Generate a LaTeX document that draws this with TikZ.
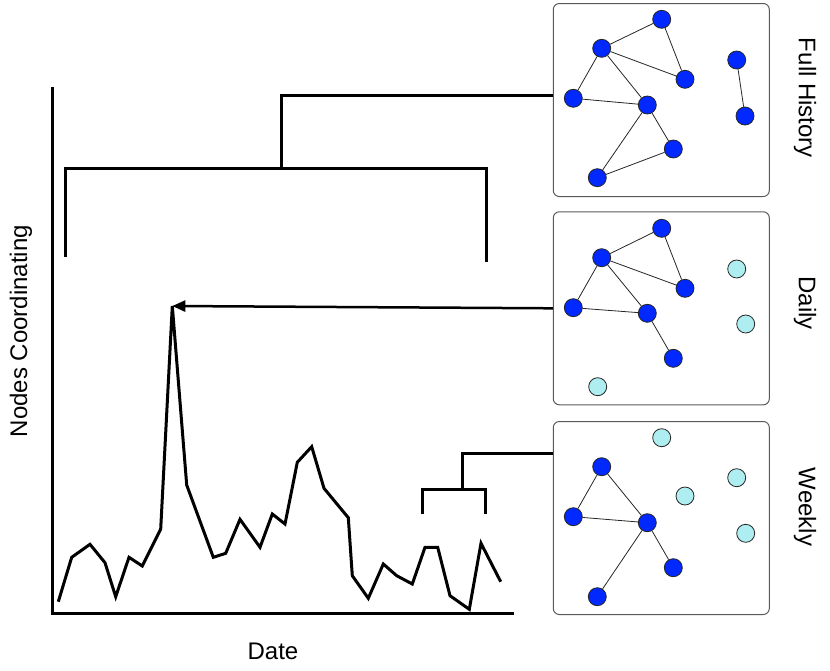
\documentclass[tikz,border=0pt]{standalone}
\usepackage{fontspec}
\setmainfont{Liberation Sans}
\usetikzlibrary{arrows.meta}
\definecolor{nodeblue}{RGB}{0,40,255}
\definecolor{nodelight}{RGB}{175,238,240}
\begin{document}
\begin{tikzpicture}[x=1pt,y=-1pt,
  gbox/.style={draw=black!65, line width=1pt, rounded corners=6pt, minimum width=216pt, minimum height=193pt, inner sep=0pt},
  on/.style={circle, draw=black!85, line width=0.8pt, fill=nodeblue, minimum size=18pt, inner sep=0pt},
  off/.style={circle, draw=black!85, line width=0.8pt, fill=nodelight, minimum size=18pt, inner sep=0pt},
  gedge/.style={line width=0.8pt, black!85},
  thickline/.style={line width=3pt, black, line join=miter},
  lbl/.style={font=\fontsize{24}{28}\selectfont, inner sep=0pt}]
\useasboundingbox (0,0) rectangle (830,670);

% boxes
\node[gbox] (box1) at (661.3,100) {};
\node[gbox] (box2) at (661.3,308.3) {};
\node[gbox] (box3) at (661.3,518) {};

% graph 1
\begin{scope}
\node[on] (a1) at (661.7,19.3) {};
\node[on] (b1) at (601.7,48.3) {};
\node[on] (c1) at (685,79.3) {};
\node[on] (d1) at (573.3,98.3) {};
\node[on] (e1) at (647.3,105) {};
\node[on] (f1) at (673.3,149) {};
\node[on] (g1) at (597.3,177.7) {};
\node[on] (h1) at (736.7,60) {};
\node[on] (i1) at (745,116) {};
\draw[gedge] (b1)--(a1) (a1)--(c1) (b1)--(c1) (b1)--(d1) (b1)--(e1) (d1)--(e1) (e1)--(f1) (e1)--(g1) (f1)--(g1) (h1)--(i1);
\end{scope}

% graph 2
\node[on] (a2) at (661.7,228.3) {};
\node[on] (b2) at (601.7,257.7) {};
\node[on] (c2) at (685,288.3) {};
\node[on] (d2) at (573.3,307.7) {};
\node[on] (e2) at (647.3,313.3) {};
\node[on] (f2) at (673.3,358.3) {};
\node[off] (h2) at (736.7,269) {};
\node[off] (i2) at (745.7,324) {};
\node[off] (g2) at (597.7,386.7) {};
\draw[gedge] (b2)--(a2) (a2)--(c2) (b2)--(c2) (b2)--(d2) (b2)--(e2) (d2)--(e2) (e2)--(f2);

% graph 3
\node[off] (a3) at (661.7,437.7) {};
\node[on] (b3) at (601.7,466.7) {};
\node[off] (h3) at (736.7,477.7) {};
\node[off] (c3) at (685,496) {};
\node[on] (d3) at (573.3,516.7) {};
\node[on] (e3) at (647.3,522.7) {};
\node[off] (i3) at (745.7,533.3) {};
\node[on] (f3) at (673.3,567.7) {};
\node[on] (g3) at (597.3,596.7) {};
\draw[gedge] (b3)--(d3) (b3)--(e3) (d3)--(e3) (e3)--(f3) (e3)--(g3);

% labels
\node[lbl, rotate=-90] (lfull) at (805,98) {Full History};
\node[lbl, rotate=-90] (ldaily) at (805,303) {Daily};
\node[lbl, rotate=-90] (lweekly) at (805,507) {Weekly};
\node[lbl, rotate=90] (ly) at (21,331) {Nodes Coordinating};
\node[lbl] (lx) at (273,651) {Date};

% axes
\draw[thickline] (52.7,87) -- (52.7,613.3) -- (514,613.3);

% chart
\coordinate (peak) at (172.3,306);
\draw[thickline] plot coordinates {
 (58.3,601.7) (71.7,557.3) (90,544.3) (105,562.7) (115.7,596.7) (129,557.3)
 (142.3,566) (160.7,529) (172.3,306) (186.7,485) (213.3,557.3) (225.7,553.3)
 (240,519.3) (260,547.3) (272.3,514) (285,524) (297.3,462.3) (311.7,446.7)
 (324,488.3) (348.3,517.7) (352.3,575.7) (368.3,598.3) (383.3,564)
 (396.7,575.7) (412.3,584) (425,547.3) (437.7,547.3) (450,595.7)
 (469.3,609.3) (481,543.3) (500.7,581.7)};

% arrow from daily box to peak
\draw[line width=2.5pt, -{Triangle[length=13pt,width=11pt]}] (box2.west) -- (peak);

% bracket for full history
\coordinate (b1l) at (65,257);
\coordinate (b1r) at (486,262);
\coordinate (b1m) at (281.7,168.3);
\draw[thickline] (b1l) |- (b1m) -| (b1r);
\draw[thickline] (b1m) |- ([yshift=5pt]box1.west);

% bracket for weekly
\coordinate (b3l) at (422.7,514);
\coordinate (b3r) at (485.7,514);
\coordinate (b3m) at (462.7,489);
\draw[thickline] (b3l) |- (b3m) -| (b3r);
\draw[thickline] (b3m) |- (box3.west |- 0,453.3);
\end{tikzpicture}
\end{document}
